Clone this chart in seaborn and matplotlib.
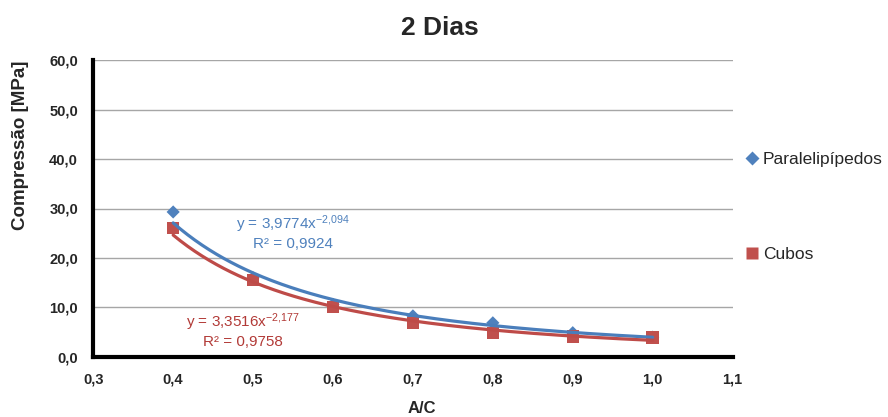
import numpy as np
import pandas as pd
import seaborn as sns
import matplotlib.pyplot as plt

ac = [0.4, 0.5, 0.6, 0.7, 0.8, 0.9, 1.0]
paralelipipedos = [29.3, 16.0, 10.6, 8.3, 6.9, 4.9, 4.0]
cubos = [26.1, 15.6, 10.1, 6.9, 4.8, 4.1, 3.9]
fit_par = (3.9774, -2.094, 0.9924)
fit_cub = (3.3516, -2.177, 0.9758)

sns.set_style("white")
plt.rcParams['font.family'] = ['Liberation Sans', 'DejaVu Sans']
plt.rcParams['mathtext.fontset'] = 'custom'
plt.rcParams['mathtext.rm'] = 'Liberation Sans'
plt.rcParams['mathtext.it'] = 'Liberation Sans'
plt.rcParams['mathtext.default'] = 'regular'

blue = "#4F81BD"
red = "#C0504D"

df = pd.DataFrame({
    "A/C": ac * 2,
    "val": paralelipipedos + cubos,
    "serie": ["Paralelipípedos"] * len(ac) + ["Cubos"] * len(ac),
})

xs = np.linspace(min(ac), max(ac), 200)
trend = pd.DataFrame({
    "A/C": np.concatenate([xs, xs]),
    "val": np.concatenate([fit_par[0] * xs ** fit_par[1], fit_cub[0] * xs ** fit_cub[1]]),
    "serie": ["Paralelipípedos"] * len(xs) + ["Cubos"] * len(xs),
})

fig = plt.figure(figsize=(8.88, 4.17), dpi=100)
ax = fig.add_axes([0.105, 0.144, 0.72, 0.712])

pal = {"Paralelipípedos": blue, "Cubos": red}
sns.scatterplot(data=df, x="A/C", y="val", hue="serie", style="serie", size="serie",
                sizes={"Paralelipípedos": 45, "Cubos": 80},
                markers={"Paralelipípedos": "D", "Cubos": "s"}, palette=pal,
                edgecolor="none", ax=ax, zorder=3)
sns.lineplot(data=trend, x="A/C", y="val", hue="serie",
             palette={"Paralelipípedos": "#4A7EBB", "Cubos": "#BE4B48"},
             linewidth=2.3, ax=ax, legend=False, zorder=4)

ax.set_xlim(0.3, 1.1)
ax.set_ylim(0, 60)
ax.set_xticks(np.arange(0.3, 1.11, 0.1))
ax.set_yticks(np.arange(0, 61, 10))
ax.set_xticklabels([f"{v:.1f}".replace(".", ",") for v in np.arange(0.3, 1.11, 0.1)],
                   fontweight="bold", fontsize=10.5)
ax.set_yticklabels([f"{v:.1f}".replace(".", ",") for v in np.arange(0, 61, 10)],
                   fontweight="bold", fontsize=10.5)
ax.yaxis.grid(True, color="#A6A6A6", linewidth=1)
ax.set_axisbelow(True)
for s in ["top", "right"]:
    ax.spines[s].set_visible(False)
for s in ["left", "bottom"]:
    ax.spines[s].set_linewidth(3)
    ax.spines[s].set_color("black")
ax.tick_params(axis="both", direction="out", length=5, width=3, color="black", pad=6)

ax.set_xlabel("A/C", fontweight="bold", fontsize=12, va="center")
ax.xaxis.set_label_coords((422 - 93) / 640, -0.175)
ax.set_ylabel("Compressão [MPa]", fontweight="bold", fontsize=13.5, va="center")
ax.yaxis.set_label_coords(-0.114, 0.714)
fig.text(0.495, 0.933, "2 Dias", fontweight="bold", fontsize=19, ha="center", va="center")

ax.text(0.55, 25.2, "y = 3,9774x$^{-2{,}094}$\nR² = 0,9924", color=blue, fontsize=11,
        ha="center", va="center", linespacing=1.15)
ax.text(0.4875, 5.4, "y = 3,3516x$^{-2{,}177}$\nR² = 0,9758", color="#B23A37", fontsize=11,
        ha="center", va="center", linespacing=1.15)

h, l = ax.get_legend_handles_labels()
keep = [i for i, t in enumerate(l) if t in pal]
ax.legend([h[i] for i in keep], [l[i] for i in keep], loc="center left",
          bbox_to_anchor=(0.99, 0.505), frameon=False,
          fontsize=12.5, handletextpad=0.0, handlelength=1.2, labelspacing=4.6)

fig.savefig("out.png", dpi=100)
